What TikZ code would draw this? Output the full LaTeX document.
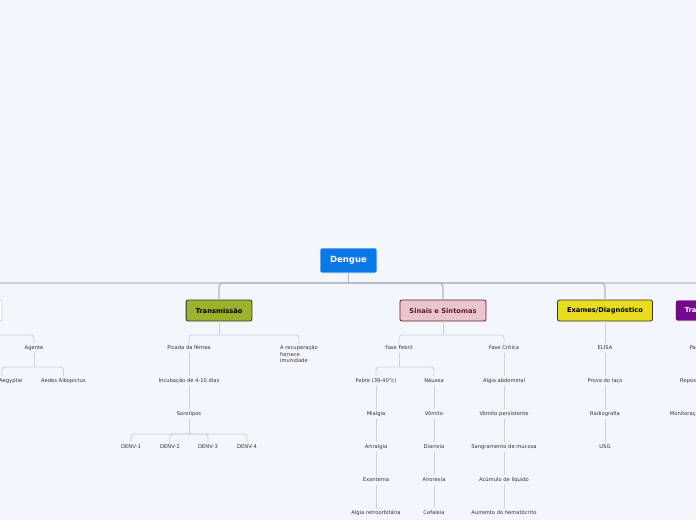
\documentclass[tikz,border=0pt]{standalone}
\usepackage{fontspec}
\setmainfont{DejaVu Sans}
\definecolor{bg}{HTML}{F3F6FD}
\definecolor{mainline}{HTML}{B4B8C2}
\definecolor{subline}{HTML}{CDD1DA}
\definecolor{dengueblue}{HTML}{0A78E6}
\definecolor{transgreen}{HTML}{9DB22C}
\definecolor{sinaispink}{HTML}{E9C6CE}
\definecolor{sinaisred}{HTML}{6A1526}
\definecolor{examyellow}{HTML}{E8DC1C}
\definecolor{tratpurple}{HTML}{74098C}
\definecolor{leaftext}{HTML}{333333}
\tikzset{
  root/.style={draw=white, line width=0.6pt, fill=dengueblue, text=white, rounded corners=2pt,
    font=\fontsize{8.5}{10}\selectfont\bfseries, minimum width=57pt, minimum height=25pt},
  topic/.style={draw=black!80, line width=0.8pt, rounded corners=2pt, inner xsep=9.5pt,
    font=\fontsize{6.7}{8}\selectfont\bfseries, minimum height=21pt},
  leaf/.style={font=\fontsize{5.2}{6.5}\selectfont, text=leaftext, inner sep=2pt,
    text height=3.8pt, text depth=1pt},
  note/.style={font=\fontsize{5.2}{6.5}\selectfont, text=leaftext, inner sep=2pt, align=left},
  link/.style={draw=subline, line width=0.9pt, rounded corners=3pt},
  mainlink/.style={draw=mainline, line width=1.4pt, rounded corners=4pt}
}
\begin{document}
\begin{tikzpicture}[x=1pt, y=-1pt]
\useasboundingbox (0,0) rectangle (696,520);
\clip (0,0) rectangle (696,520);
\fill[bg] (0,0) rectangle (696,520);

\node[root] (dg) at (348.5,260.5) {Dengue};
\node[topic, fill=white, draw=subline, minimum width=60pt] (vet) at (-28,310.5) {};
\node[topic, fill=transgreen] (tr) at (219,310.5) {Transmissão};
\node[topic, fill=sinaispink, draw=sinaisred, text=sinaisred] (si) at (443,310.5) {Sinais e Sintomas};
\node[topic, fill=examyellow] (ex) at (605,310.5) {Exames/Diagnóstico};
\node[topic, fill=tratpurple, draw=white, text=white] (tt) at (706.5,310.5) {Tratamento};

\coordinate (hub) at (348.5,283);
\draw[mainlink] (dg.south) -- (hub);
\draw[mainlink] (vet.north) |- (hub) -| (tt.north);
\draw[mainlink] (tr.north) |- (hub);
\draw[mainlink] (si.north) |- (hub);
\draw[mainlink] (ex.north) |- (hub);

\node[leaf] (ag) at (34,348) {Agente};
\node[leaf] (aeg) at (2,381) {Aedes Aegyptie};
\node[leaf] (alb) at (63.5,381) {Aedes Albopictus};
\coordinate (vetb) at (-28,335);
\coordinate (agb) at (34,367);
\draw[link] (vet.south) -- (vetb) -| (ag.north);
\draw[link] (ag.south) -- (agb);
\draw[link] (aeg.north) |- (agb) -| (alb.north);

\node[leaf] (pic) at (189,348) {Picada da fêmea};
\node[note] (rec) at (299,354.5) {A recuperação\\fornece\\imunidade};
\node[leaf] (inc) at (189,381) {Incubação de 4-10 dias};
\node[leaf] (sor) at (189,414) {Sorotipos};
\node[leaf] (d1) at (131,447) {DENV-1};
\node[leaf] (d2) at (170,447) {DENV-2};
\node[leaf] (d3) at (208,447) {DENV-3};
\node[leaf] (d4) at (247,447) {DENV-4};
\coordinate (trb) at (219,335);
\coordinate (sorb) at (189,434);
\draw[link] (tr.south) -- (trb);
\draw[link] (pic.north) |- (trb) -| (rec.north);
\draw[link] (pic) -- (inc);
\draw[link] (inc) -- (sor);
\draw[link] (sor.south) -- (sorb);
\draw[link] (d1.north) |- (sorb) -| (d4.north);
\draw[link] (d2.north) |- (sorb);
\draw[link] (d3.north) |- (sorb);

\node[leaf] (ff) at (399,348) {Fase Febril};
\node[leaf] (fc) at (504,348) {Fase Crítica};
\node[leaf] (a1) at (376,381) {Febre (39-40°c)};
\node[leaf] (a2) at (376,414) {Mialgia};
\node[leaf] (a3) at (376,447) {Artralgia};
\node[leaf] (a4) at (376,480) {Exantema};
\node[leaf] (a5) at (376,513) {Algia retroorbitária};
\node[leaf] (b1) at (434,381) {Náusea};
\node[leaf] (b2) at (434,414) {Vômito};
\node[leaf] (b3) at (434,447) {Diarreia};
\node[leaf] (b4) at (434,480) {Anorexia};
\node[leaf] (b5) at (434,513) {Cefaleia};
\node[leaf] (c1) at (504,381) {Algia abdominal};
\node[leaf] (c2) at (504,414) {Vômito persistente};
\node[leaf] (c3) at (504,447) {Sangramento de mucosa};
\node[leaf] (c4) at (504,480) {Acúmulo de líquido};
\node[leaf] (c5) at (504,513) {Aumento do hematócrito};
\coordinate (sib) at (443,335);
\coordinate (ffb) at (399,367);
\draw[link] (si.south) -- (sib);
\draw[link] (ff.north) |- (sib) -| (fc.north);
\draw[link] (ff.south) -- (ffb);
\draw[link] (a1.north) |- (ffb) -| (b1.north);
\draw[link] (fc) -- (c1);
\foreach \col in {a,b,c}
  \foreach \i/\j in {1/2,2/3,3/4,4/5}
    \draw[link] (\col\i.south) -- (\col\j.north);

\node[leaf] (el) at (605,348) {ELISA};
\node[leaf] (lac) at (605,381) {Prova do laço};
\node[leaf] (rad) at (605,414) {Radiografia};
\node[leaf] (usg) at (605,447) {USG};
\draw[link] (ex) -- (el);
\draw[link] (el) -- (lac);
\draw[link] (lac) -- (rad);
\draw[link] (rad) -- (usg);

\node[leaf] (par) at (706,348) {Paracetamol};
\node[leaf] (rep) at (706,381) {Reposição volêmica};
\node[leaf] (mon) at (706,414) {Monitoração de sinais vitais};
\draw[link] (tt) -- (par);
\draw[link] (par) -- (rep);
\draw[link] (rep) -- (mon);
\end{tikzpicture}
\end{document}
